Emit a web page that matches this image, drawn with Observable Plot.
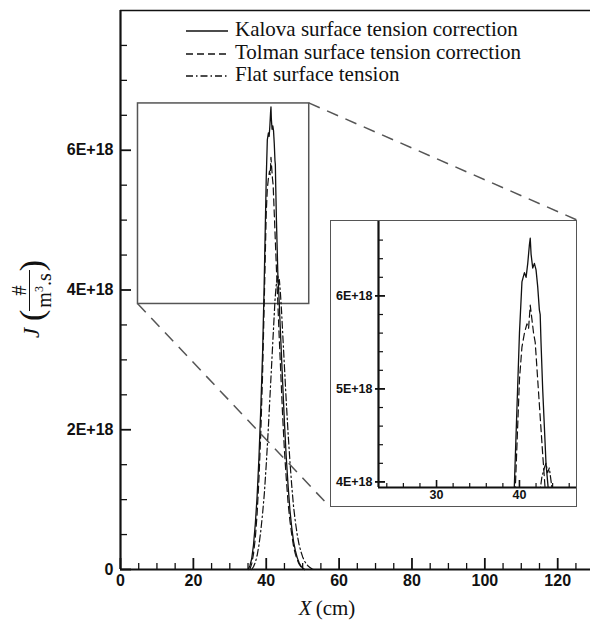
<!DOCTYPE html>
<html>
<head>
<meta charset="utf-8">
<script src="https://cdn.jsdelivr.net/npm/d3@7"></script>
<script src="https://cdn.jsdelivr.net/npm/@observablehq/plot@0.6"></script>
<style>
  body { margin: 0; background: #fff; }
  #wrap { position: relative; width: 590px; height: 622px; overflow: hidden; background: #fff;
          font-family: "Liberation Serif", "Times New Roman", serif; color: #111; }
  #main { position: absolute; left: 0; top: 0; }
  #inset { position: absolute; left: 330px; top: 220px; }
  #overlay { position: absolute; left: 0; top: 0; pointer-events: none; overflow: visible; }
  .legrow { position: absolute; left: 186px; height: 22px; font-size: 21px; line-height: 22px; white-space: nowrap; }
  .legrow svg { position: absolute; left: 0; top: 9px; }
  .legrow span { position: absolute; left: 49px; top: 0; }
  #xlabel { position: absolute; left: 327px; top: 596px; transform: translateX(-50%); font-size: 21px; white-space: nowrap; }
  #ylabel { position: absolute; left: 32px; top: 299px; transform: translate(-50%, -50%) rotate(-90deg);
            display: inline-flex; align-items: center; white-space: nowrap; font-size: 23px; }
  #ylabel .paren { font-size: 34px; line-height: 34px; }
  #ylabel .frac { display: inline-flex; flex-direction: column; align-items: center; font-size: 20px; line-height: 19px; margin: 0 2px; }
  #ylabel .num { border-bottom: 1.3px solid #111; padding: 0 3px; width: 100%; text-align: center; }
  #ylabel sup { font-size: 12px; vertical-align: 8px; }
</style>
</head>
<body>
<div id="wrap"></div>
<script>
// ---------- data ----------
const kalovaX = [35, 35.5, 36, 36.5, 37, 37.5, 38, 38.5, 39, 39.4, 39.7, 40.0, 40.3, 40.6, 40.8, 41.0, 41.2, 41.3, 41.4, 41.6, 41.8, 42.0, 42.2, 42.4, 42.5, 42.6, 42.8, 43.0, 43.2, 43.5, 43.9, 44.4, 45, 45.5, 46, 46.5, 47, 47.5, 48, 48.5, 49, 49.5, 50, 50.5];
const kalovaJ = [0, 0.05e18, 0.15e18, 0.35e18, 0.65e18, 1.05e18, 1.6e18, 2.3e18, 3.1e18, 4.0e18, 4.8e18, 5.6e18, 6.15e18, 6.25e18, 6.2e18, 6.35e18, 6.55e18, 6.62e18, 6.45e18, 6.3e18, 6.35e18, 6.28e18, 6.1e18, 5.85e18, 5.8e18, 5.5e18, 5.0e18, 4.6e18, 4.2e18, 3.9e18, 3.4e18, 2.8e18, 2.1e18, 1.6e18, 1.2e18, 0.85e18, 0.6e18, 0.4e18, 0.27e18, 0.17e18, 0.1e18, 0.05e18, 0.02e18, 0];

const tolmanX = [35.5, 36, 36.5, 37, 37.5, 38, 38.5, 39, 39.4, 39.7, 40.0, 40.3, 40.6, 40.9, 41.1, 41.3, 41.5, 41.7, 41.9, 42.2, 42.5, 42.8, 43.0, 43.5, 44, 44.5, 45, 45.5, 46, 46.5, 47, 47.5, 48, 48.5, 49, 49.5, 50, 50.5];
const tolmanJ = [0, 0.08e18, 0.22e18, 0.45e18, 0.8e18, 1.3e18, 1.95e18, 2.8e18, 3.7e18, 4.4e18, 5.1e18, 5.45e18, 5.6e18, 5.7e18, 5.65e18, 5.9e18, 5.75e18, 5.6e18, 5.5e18, 5.1e18, 4.7e18, 4.3e18, 4.05e18, 3.4e18, 2.8e18, 2.2e18, 1.7e18, 1.3e18, 0.95e18, 0.7e18, 0.5e18, 0.33e18, 0.22e18, 0.14e18, 0.08e18, 0.04e18, 0.02e18, 0];

const flatX = [36, 36.5, 37, 37.5, 38, 38.5, 39, 39.5, 40, 40.5, 41, 41.5, 42, 42.4, 42.7, 43.0, 43.2, 43.4, 43.6, 43.9, 44.2, 44.6, 45, 45.5, 46, 46.5, 47, 47.5, 48, 48.5, 49, 49.5, 50, 50.5, 51, 51.5, 52, 52.5, 53];
const flatJ = [0, 0.04e18, 0.1e18, 0.2e18, 0.35e18, 0.55e18, 0.8e18, 1.1e18, 1.5e18, 1.95e18, 2.45e18, 2.95e18, 3.45e18, 3.85e18, 4.05e18, 4.15e18, 4.2e18, 4.1e18, 4.15e18, 3.95e18, 3.7e18, 3.3e18, 2.9e18, 2.4e18, 1.95e18, 1.55e18, 1.2e18, 0.9e18, 0.68e18, 0.5e18, 0.36e18, 0.26e18, 0.18e18, 0.12e18, 0.08e18, 0.05e18, 0.03e18, 0.01e18, 0];

const seriesNames = ["Kalova surface tension correction", "Tolman surface tension correction", "Flat surface tension"];

// main axes
const mainXDomain = [0, 129];
const mainYDomain = [0, 8e18];
const mainXMajor = [0, 20, 40, 60, 80, 100, 120];
const mainXMinor = [5, 10, 15, 25, 30, 35, 45, 50, 55, 65, 70, 75, 85, 90, 95, 105, 110, 115, 125];
const mainYMajor = [0, 2e18, 4e18, 6e18];
const mainYLabels = ["0", "2E+18", "4E+18", "6E+18"];
const mainYMinor = [0.5e18, 1e18, 1.5e18, 2.5e18, 3e18, 3.5e18, 4.5e18, 5e18, 5.5e18, 6.5e18, 7e18, 7.5e18];

// zoom window shown in the main chart
const zoomX = [4.8, 51.8];
const zoomJ = [3.8e18, 6.67e18];

// inset axes
const insetXDomain = [23, 47];
const insetYDomain = [3.94e18, 6.8e18];
const insetXMajor = [30, 40];
const insetXMinor = [24, 26, 28, 32, 34, 36, 38, 42, 44, 46];
const insetYMajor = [4e18, 5e18, 6e18];
const insetYLabels = ["4E+18", "5E+18", "6E+18"];
const insetYMinor = [4.2e18, 4.4e18, 4.6e18, 4.8e18, 5.2e18, 5.4e18, 5.6e18, 5.8e18, 6.2e18, 6.4e18, 6.6e18];

// ---------- build ----------
const toRows = (xs, js) => xs.map((x, i) => ({x, J: js[i]}));
const kalova = toRows(kalovaX, kalovaJ);
const tolman = toRows(tolmanX, tolmanJ);
const flat = toRows(flatX, flatJ);

const ink = "#111";
const dashTolman = "7,4";
const dashFlat = "7,3,1.5,3";

function curves(clip) {
  return [
    Plot.line(flat, {x: "x", y: "J", stroke: ink, strokeWidth: 1.2, strokeDasharray: dashFlat, clip}),
    Plot.line(tolman, {x: "x", y: "J", stroke: ink, strokeWidth: 1.2, strokeDasharray: dashTolman, clip}),
    Plot.line(kalova, {x: "x", y: "J", stroke: ink, strokeWidth: 1.3, clip})
  ];
}

// inward-pointing axis ticks: outward ticks shifted back across the axis line
const tickInX = (vals, len, w) => Plot.axisX(vals, {tickSize: len, dy: -len, tickFormat: () => "", label: null, strokeWidth: w});
const tickInY = (vals, len, w) => Plot.axisY(vals, {tickSize: len, dx: len, tickFormat: () => "", label: null, strokeWidth: w});

const yLabelMain = new Map(mainYMajor.map((v, i) => [v, mainYLabels[i]]));
const yLabelInset = new Map(insetYMajor.map((v, i) => [v, insetYLabels[i]]));

const main = Plot.plot({
  width: 590, height: 600,
  marginLeft: 120, marginRight: 0, marginTop: 10, marginBottom: 31,
  x: {domain: mainXDomain},
  y: {domain: mainYDomain},
  style: {fontFamily: "'Liberation Sans', Arial, sans-serif", fontSize: "16px", fontWeight: "bold", color: ink, background: "transparent", overflow: "visible"},
  marks: [
    Plot.rect([{x1: zoomX[0], x2: zoomX[1], y1: zoomJ[0], y2: zoomJ[1]}], {x1: "x1", x2: "x2", y1: "y1", y2: "y2", fill: "none", stroke: "#555", strokeWidth: 1.5}),
    ...curves(false),
    tickInX(mainXMinor, 6, 1.3),
    tickInX(mainXMajor, 11, 1.8),
    tickInY(mainYMinor, 7, 1.3),
    tickInY(mainYMajor, 11, 1.8),
    Plot.axisX(mainXMajor, {tickSize: 0, tickPadding: 5, tickFormat: d => String(d), label: null}),
    Plot.axisY(mainYMajor, {tickSize: 0, tickPadding: 7, tickFormat: d => yLabelMain.get(d), label: null}),
    Plot.ruleY([mainYDomain[1]], {stroke: ink, strokeWidth: 1.5}),
    Plot.ruleX([mainXDomain[0]], {stroke: ink, strokeWidth: 2.2}),
    Plot.ruleY([mainYDomain[0]], {stroke: ink, strokeWidth: 2.2})
  ]
});
main.id = "main";

const INSET = {left: 330, top: 220, width: 247, height: 287};

const inset = Plot.plot({
  width: INSET.width, height: INSET.height,
  marginLeft: 48, marginRight: 0, marginTop: 1, marginBottom: 20,
  x: {domain: insetXDomain},
  y: {domain: insetYDomain},
  style: {fontFamily: "'Liberation Sans', Arial, sans-serif", fontSize: "12.5px", fontWeight: "bold", color: ink, background: "#fff"},
  marks: [
    ...curves(true),
    tickInX(insetXMinor, 4, 1.2),
    tickInX(insetXMajor, 7, 1.6),
    tickInY(insetYMinor, 5, 1.2),
    tickInY(insetYMajor, 7, 1.8),
    Plot.axisX(insetXMajor, {tickSize: 0, tickPadding: 3, tickFormat: d => String(d), label: null}),
    Plot.axisY(insetYMajor, {tickSize: 3, tickPadding: 3, tickFormat: d => yLabelInset.get(d), label: null, strokeWidth: 1.8}),
    Plot.ruleX([insetXDomain[0]], {stroke: ink, strokeWidth: 2.2}),
    Plot.ruleY([insetYDomain[0]], {stroke: ink, strokeWidth: 2.2})
  ]
});
inset.id = "inset";
inset.style.outline = "1.5px solid #555";
inset.style.outlineOffset = "-1px";

const wrap = document.getElementById("wrap");
wrap.appendChild(main);

// connector lines from zoom window to inset (through the main plot's scales)
const msx = main.scale("x"), msy = main.scale("y");
const cg = d3.select(main).append("g").attr("stroke", "#555").attr("stroke-width", 1.5).attr("stroke-dasharray", "12,8").attr("fill", "none");
cg.append("line")
  .attr("x1", msx.apply(zoomX[1])).attr("y1", msy.apply(zoomJ[1]))
  .attr("x2", INSET.left + INSET.width).attr("y2", INSET.top);
cg.append("line")
  .attr("x1", msx.apply(zoomX[0])).attr("y1", msy.apply(zoomJ[0]))
  .attr("x2", INSET.left).attr("y2", INSET.top + INSET.height);

wrap.appendChild(inset);

// legend
const dashes = [null, dashTolman, dashFlat];
const rowTops = [18, 40.5, 63];
seriesNames.forEach((name, i) => {
  const row = d3.select(wrap).append("div").attr("class", "legrow").style("top", rowTops[i] + "px");
  const s = row.append("svg").attr("width", 42).attr("height", 8);
  s.append("line").attr("x1", 0).attr("x2", 42).attr("y1", 4).attr("y2", 4)
    .attr("stroke", ink).attr("stroke-width", 1.3)
    .attr("stroke-dasharray", dashes[i]);
  row.append("span").text(name);
});

// axis titles
d3.select(wrap).append("div").attr("id", "xlabel").html("<i>X</i>\u2009(cm)");
d3.select(wrap).append("div").attr("id", "ylabel")
  .html('<i>J</i><span class="paren">&#x2009;(</span><span class="frac"><span class="num">#</span><span class="den">m<sup>3</sup>.s</span></span><span class="paren">)</span>');
</script>
</body>
</html>
